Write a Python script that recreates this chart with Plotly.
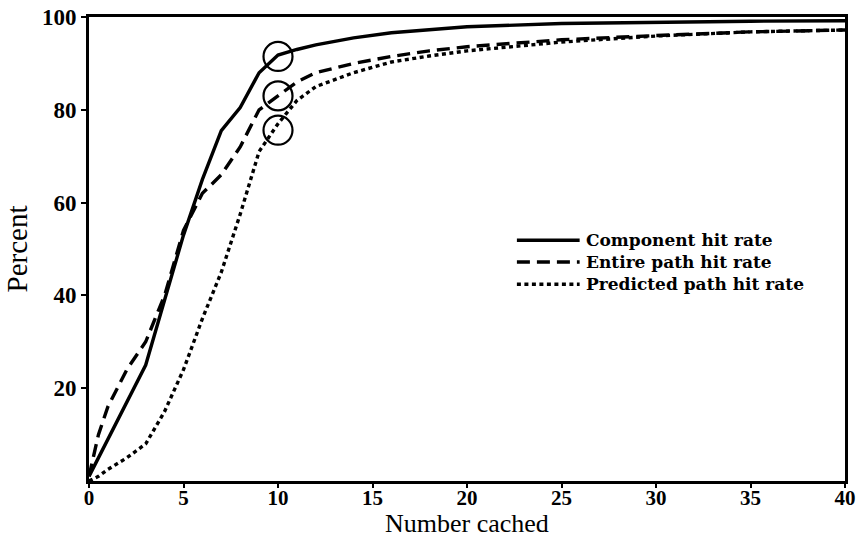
import plotly.graph_objects as go

# ---- data ----
x_cached = [0, 0.5, 1, 2, 3, 4, 5, 6, 7, 8, 9, 10, 11, 12, 14, 16, 18, 20, 25, 30, 35, 40]
component_hit = [1, 5, 9, 17, 25, 39, 53, 65, 75.5, 80.5, 88, 91.8, 93, 94, 95.5, 96.6, 97.3, 97.9, 98.6, 98.9, 99.1, 99.2]
entire_path_hit = [1, 10, 16, 24, 30, 40, 54, 62, 66, 72, 80, 83, 86, 88, 90, 91.5, 92.7, 93.6, 95.1, 96, 96.8, 97.2]
predicted_path_hit = [0, 1, 2.5, 5, 8, 15, 24, 35, 45, 57.5, 71, 77, 82, 85, 88, 90.3, 91.6, 92.7, 94.6, 95.9, 96.8, 97.2]

circle_x = [10, 10, 10]
circle_y = [91.5, 83, 75.6]

legend_labels = ["Component hit rate", "Entire path hit rate", "Predicted path hit rate"]
x_ticks = [0, 5, 10, 15, 20, 25, 30, 35, 40]
y_ticks = [20, 40, 60, 80, 100]

FONT = "Liberation Serif, Times New Roman, serif"
LEGFONT = "DejaVu Serif, serif"
dashes = ["solid", "13px,7px", "4px,3.5px"]
series = [component_hit, entire_path_hit, predicted_path_hit]

fig = go.Figure()
for ys, d, name in zip(series, dashes, legend_labels):
    fig.add_trace(go.Scatter(x=x_cached, y=ys, mode="lines", name=name,
                             line=dict(color="black", width=3.4, dash=d),
                             showlegend=False))

fig.add_trace(go.Scatter(x=circle_x, y=circle_y, mode="markers", showlegend=False,
                         marker=dict(symbol="circle-open", size=29,
                                     color="black", line=dict(width=2.2, color="black"))))

# manual legend: sample lines + one multi-line text block
row_y = [0.519, 0.472, 0.424]
for yy, d in zip(row_y, dashes):
    fig.add_shape(type="line", xref="paper", yref="paper", x0=0.566, x1=0.649, y0=yy, y1=yy,
                  line=dict(color="black", width=3.4, dash=d))
fig.add_annotation(xref="paper", yref="paper", x=0.655, y=row_y[1], text="<br>".join(legend_labels),
                   showarrow=False, xanchor="left", yanchor="middle", align="left",
                   font=dict(family=LEGFONT, size=17, color="black", weight="bold"))

# x-axis title placed below the tick labels
fig.add_annotation(xref="paper", yref="paper", x=0.5, y=-0.126, text="Number cached",
                   showarrow=False, xanchor="center", yanchor="bottom", borderpad=0,
                   font=dict(family=FONT, size=26, color="black"))

fig.update_layout(
    width=864, height=540,
    margin=dict(l=89, r=19, t=17, b=59),
    paper_bgcolor="white", plot_bgcolor="white",
    font=dict(family=FONT, color="black"),
)
fig.update_xaxes(range=[0, 40], tickvals=x_ticks, ticks="outside", ticklen=4, tickwidth=2,
                 tickcolor="black", showline=True, linewidth=3, linecolor="black", mirror=True,
                 showgrid=False, zeroline=False, automargin=False, ticklabelstandoff=-8,
                 tickfont=dict(family=FONT, size=21, color="black", weight="bold"))
fig.update_yaxes(range=[0, 100], tickvals=y_ticks, ticks="outside", ticklen=5, tickwidth=2,
                 tickcolor="black", showline=True, linewidth=3, linecolor="black", mirror=True,
                 showgrid=False, zeroline=False, automargin=False,
                 tickfont=dict(family=FONT, size=23, color="black", weight="bold"),
                 title=dict(text="Percent", font=dict(family=FONT, size=29), standoff=6))

fig.write_html("out.html")
